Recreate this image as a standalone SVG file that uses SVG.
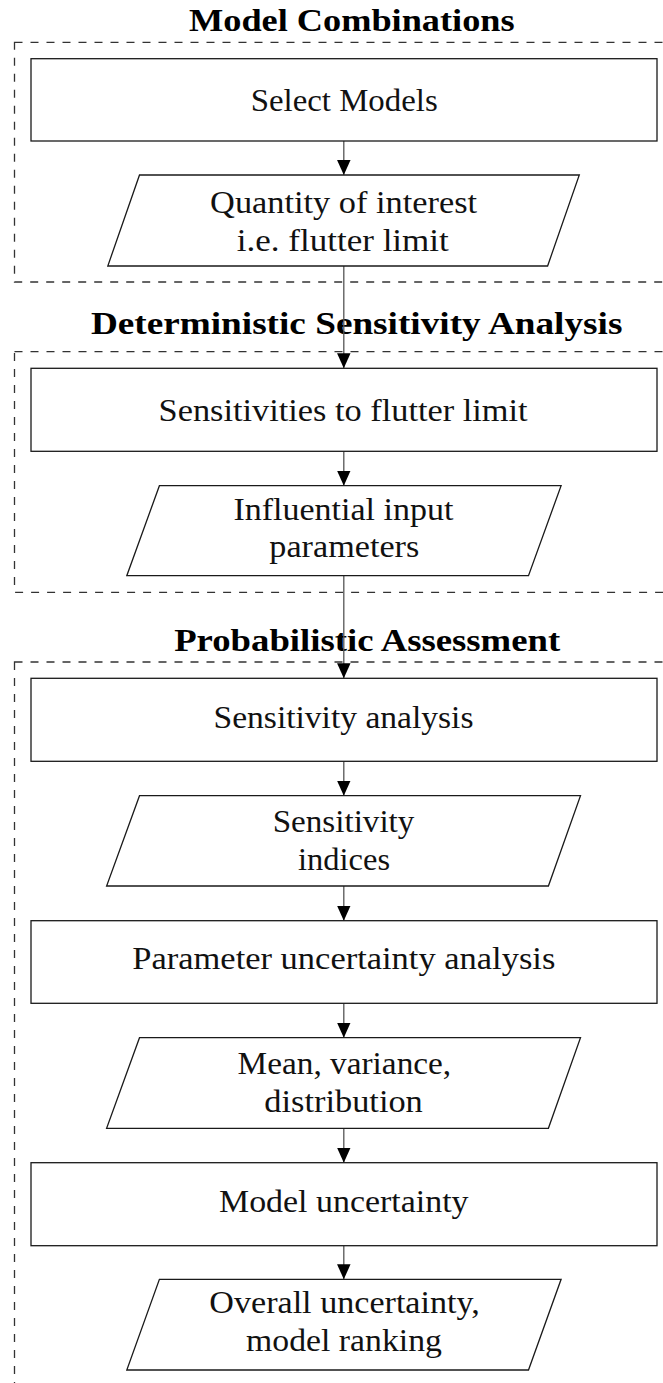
<svg xmlns="http://www.w3.org/2000/svg" width="663" height="1383" viewBox="0 0 663 1383">
  <style>
    .stage { fill: none; stroke: #333; stroke-width: 1.3; stroke-dasharray: 8 8; }
    .box { fill: #fff; stroke: #1a1a1a; stroke-width: 1.3; }
    .title { font-family: "Liberation Serif", "Times New Roman", serif; font-weight: bold; font-size: 31px; fill: #000; }
    .label { font-family: "Liberation Serif", "Times New Roman", serif; font-size: 32px; fill: #111; }
    .flow { stroke: #555; stroke-width: 1.3; fill: none; marker-end: url(#head); }
  </style>
  <defs>
    <marker id="head" markerUnits="userSpaceOnUse" markerWidth="15" markerHeight="13.5" refX="15" refY="6.75" orient="auto">
      <path d="M0,0 L15,6.75 L0,13.5 z" fill="#000"/>
    </marker>
  </defs>

  <rect width="663" height="1383" fill="#fff"/>

  <!-- stage frames (right edge lies beyond the page) -->
  <g id="stages">
    <rect class="stage" x="14.5" y="42.3" width="700" height="239.7"/>
    <rect class="stage" x="14.5" y="351.7" width="700" height="240.6"/>
    <rect class="stage" x="14.5" y="662" width="700" height="800"/>
    <text class="title" x="189" y="31" textLength="325.6" lengthAdjust="spacingAndGlyphs">Model Combinations</text>
    <text class="title" x="90.9" y="334.3" textLength="531.5" lengthAdjust="spacingAndGlyphs">Deterministic Sensitivity Analysis</text>
    <text class="title" x="174.2" y="650.7" textLength="386" lengthAdjust="spacingAndGlyphs">Probabilistic Assessment</text>
  </g>

  <!-- connectors -->
  <g id="connectors">
    <line class="flow" x1="343.8" y1="141" x2="343.8" y2="175"/>
    <line class="flow" x1="343.8" y1="266" x2="343.8" y2="368.3"/>
    <line class="flow" x1="343.8" y1="451.3" x2="343.8" y2="485.7"/>
    <line class="flow" x1="343.8" y1="575.7" x2="343.8" y2="678.3"/>
    <line class="flow" x1="343.8" y1="761.3" x2="343.8" y2="795.7"/>
    <line class="flow" x1="343.8" y1="886" x2="343.8" y2="920.7"/>
    <line class="flow" x1="343.8" y1="1003.3" x2="343.8" y2="1037.7"/>
    <line class="flow" x1="343.8" y1="1128.3" x2="343.8" y2="1162.7"/>
    <line class="flow" x1="343.8" y1="1245.7" x2="343.8" y2="1279.3"/>
  </g>

  <g id="select-models">
    <rect class="box" x="31" y="58.7" width="626" height="82.3"/>
    <text class="label" x="250.7" y="111" textLength="187" lengthAdjust="spacingAndGlyphs">Select Models</text>
  </g>

  <g id="quantity-of-interest">
    <polygon class="box" points="139.5,175 579.3,175 547.6,266 107.8,266"/>
    <text class="label" x="210.1" y="213" textLength="267" lengthAdjust="spacingAndGlyphs">Quantity of interest</text>
    <text class="label" x="236.8" y="251" textLength="212" lengthAdjust="spacingAndGlyphs">i.e. flutter limit</text>
  </g>

  <g id="sensitivities">
    <rect class="box" x="31" y="368.3" width="626" height="83"/>
    <text class="label" x="158.6" y="421" textLength="369" lengthAdjust="spacingAndGlyphs">Sensitivities to flutter limit</text>
  </g>

  <g id="influential-parameters">
    <polygon class="box" points="159.4,485.7 561.1,485.7 528.5,575.7 126.8,575.7"/>
    <text class="label" x="233.4" y="520" textLength="220" lengthAdjust="spacingAndGlyphs">Influential input</text>
    <text class="label" x="269.3" y="557" textLength="150" lengthAdjust="spacingAndGlyphs">parameters</text>
  </g>

  <g id="sensitivity-analysis">
    <rect class="box" x="31" y="678.3" width="626" height="83"/>
    <text class="label" x="213.5" y="728" textLength="260" lengthAdjust="spacingAndGlyphs">Sensitivity analysis</text>
  </g>

  <g id="sensitivity-indices">
    <polygon class="box" points="139.5,795.7 580.5,795.7 548.4,886 106.6,886"/>
    <text class="label" x="272.7" y="832.3" textLength="141.7" lengthAdjust="spacingAndGlyphs">Sensitivity</text>
    <text class="label" x="298.1" y="870" textLength="92" lengthAdjust="spacingAndGlyphs">indices</text>
  </g>

  <g id="parameter-uncertainty">
    <rect class="box" x="31" y="920.7" width="626" height="82.6"/>
    <text class="label" x="132.3" y="969.3" textLength="423" lengthAdjust="spacingAndGlyphs">Parameter uncertainty analysis</text>
  </g>

  <g id="statistics">
    <polygon class="box" points="139.5,1037.7 580.5,1037.7 548.4,1128.3 106.6,1128.3"/>
    <text class="label" x="237.6" y="1074" textLength="213.6" lengthAdjust="spacingAndGlyphs">Mean, variance,</text>
    <text class="label" x="264.3" y="1112.3" textLength="158.5" lengthAdjust="spacingAndGlyphs">distribution</text>
  </g>

  <g id="model-uncertainty">
    <rect class="box" x="31" y="1162.7" width="626" height="83"/>
    <text class="label" x="219" y="1211.7" textLength="249.5" lengthAdjust="spacingAndGlyphs">Model uncertainty</text>
  </g>

  <g id="overall-uncertainty">
    <polygon class="box" points="159.4,1279.3 561.1,1279.3 528.5,1370 126.8,1370"/>
    <text class="label" x="209.3" y="1313.3" textLength="270.6" lengthAdjust="spacingAndGlyphs">Overall uncertainty,</text>
    <text class="label" x="246.1" y="1351" textLength="195.8" lengthAdjust="spacingAndGlyphs">model ranking</text>
  </g>
</svg>
